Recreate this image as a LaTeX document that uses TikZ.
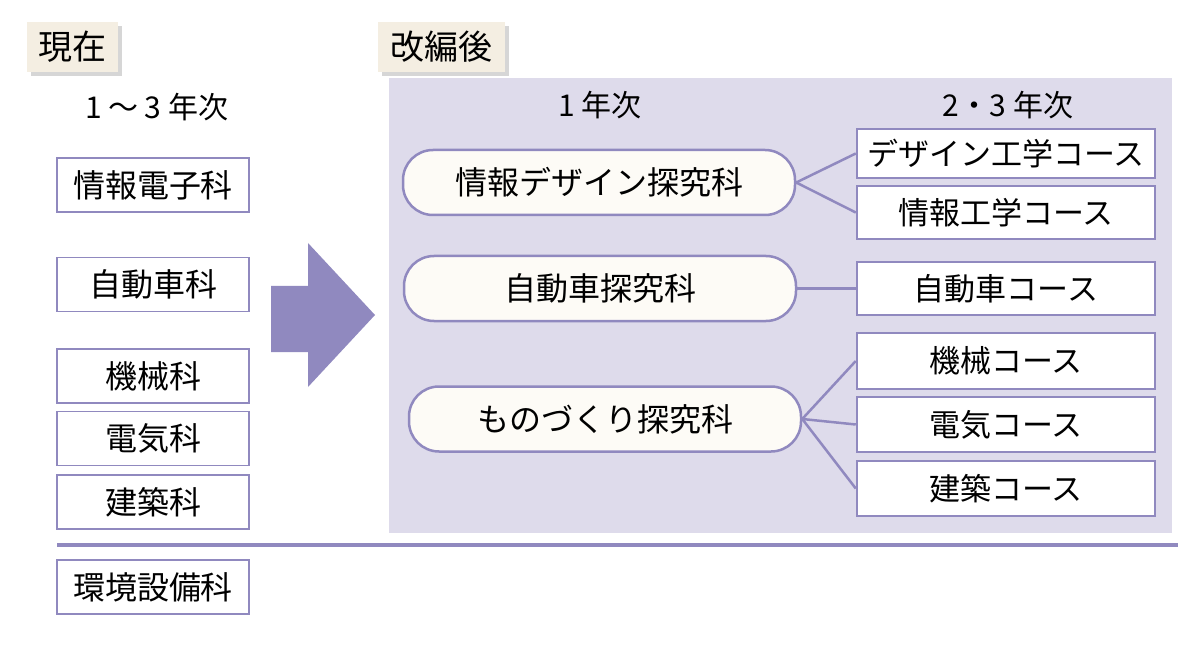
\documentclass[tikz,border=0pt]{standalone}
\usepackage{fontspec}
\setmainfont{Noto Sans CJK JP}
\definecolor{bord}{HTML}{9089BF}
\definecolor{bgpur}{HTML}{DEDBEB}
\definecolor{cream}{HTML}{F4EEE2}
\definecolor{shad}{HTML}{D6D6D6}
\definecolor{pill}{HTML}{FDFBF6}
\begin{document}
\begin{tikzpicture}[x=1pt,y=-1pt,
  oldbox/.style={draw=bord,line width=1.5pt,fill=white,minimum width=192pt,minimum height=54pt,inner sep=0pt,font=\fontsize{32}{32}\selectfont},
  newbox/.style={draw=bord,line width=2.5pt,fill=white,minimum width=298pt,inner sep=0pt,font=\fontsize{31}{31}\selectfont},
  pillbox/.style={draw=bord,line width=2.5pt,fill=pill,rounded corners=30pt,minimum width=392pt,minimum height=65pt,inner sep=0pt,font=\fontsize{32}{32}\selectfont},
  title/.style={fill=cream,inner sep=0pt,minimum height=50pt,font=\fontsize{34}{34}\selectfont},
  head/.style={font=\fontsize{30}{30}\selectfont,inner sep=0pt},
  conn/.style={draw=bord,line width=2.5pt}]
\useasboundingbox (0,0) rectangle (1200,647);
% background panel
\fill[bgpur] (389,78) rectangle (1172,533);
% titles with shadow
\fill[shad] (31,26) rectangle (122,76);
\node[title,minimum width=91pt] (t1) at (72.5,47) {現在};
\fill[shad] (382,26) rectangle (509,76);
\node[title,minimum width=127pt] (t2) at (441.5,47) {改編後};
% headings
\node[head] (h1) at (157,107) {1\hspace{6pt}～\hspace{6pt}3\hspace{7pt}年次};
\node[head] (h2) at (600,105) {1\hspace{7pt}年次};
\node[head] (h3) at (1008,105) {2・3\hspace{7pt}年次};
% old departments
\node[oldbox] (o1) at (153,185) {情報電子科};
\node[oldbox] (o2) at (153,284.5) {自動車科};
\node[oldbox] (o3) at (153,376) {機械科};
\node[oldbox] (o4) at (153,438.5) {電気科};
\node[oldbox] (o5) at (153,502) {建築科};
\node[oldbox] (o6) at (153,587) {環境設備科};
% separator
\draw[bord,line width=4pt] (57,545) -- (1178,545);
% big arrow
\fill[bord] (271,286) -- (308,286) -- (308,243) -- (375,315) -- (308,387) -- (308,352) -- (271,352) -- cycle;
% new departments
\node[pillbox] (p1) at (599,182.5) {情報デザイン探究科};
\node[pillbox] (p2) at (600,288.5) {自動車探究科};
\node[pillbox] (p3) at (605,419) {ものづくり探究科};
% courses
\node[newbox,minimum height=49pt] (c1) at (1006,153.5) {デザイン工学コース};
\node[newbox,minimum height=53pt] (c2) at (1006,212.5) {情報工学コース};
\node[newbox,minimum height=53pt] (c3) at (1006,288.5) {自動車コース};
\node[newbox,minimum height=56pt] (c4) at (1006,361) {機械コース};
\node[newbox,minimum height=55pt] (c5) at (1006,424.5) {電気コース};
\node[newbox,minimum height=55pt] (c6) at (1006,488.5) {建築コース};
% connectors
\draw[conn] (p1.east) -- (c1.west);
\draw[conn] (p1.east) -- (c2.west);
\draw[conn] (p2.east) -- (c3.west);
\draw[conn] (p3.east) -- (c4.west);
\draw[conn] (p3.east) -- (c5.west);
\draw[conn] (p3.east) -- (c6.west);
\end{tikzpicture}
\end{document}
